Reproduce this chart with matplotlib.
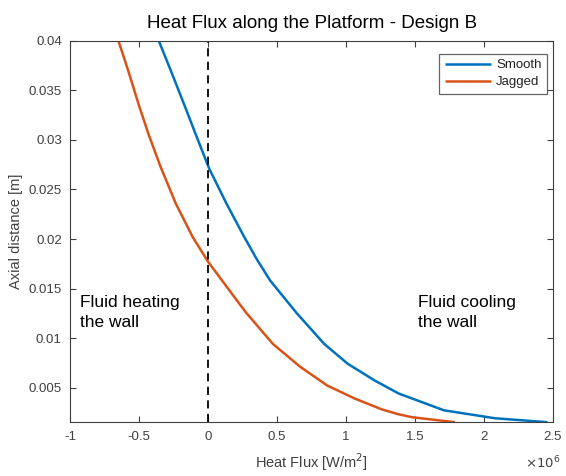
import matplotlib
matplotlib.use("Agg")
import matplotlib.pyplot as plt

plt.rcParams['font.family'] = ['Liberation Sans', 'DejaVu Sans']

# Data (heat flux in units of 1e6 W/m^2, axial distance in m)
smooth_y = [0.0400, 0.0366, 0.0332, 0.0305, 0.0271, 0.0236, 0.0202, 0.0179,
            0.0158, 0.0125, 0.0094, 0.0074, 0.0057, 0.0044, 0.0027, 0.0019, 0.0015]
smooth_x = [-0.357, -0.259, -0.163, -0.088, 0.008, 0.132, 0.262, 0.355,
            0.450, 0.643, 0.842, 1.012, 1.209, 1.381, 1.71, 2.08, 2.46]
jagged_y = [0.0400, 0.0369, 0.0336, 0.0305, 0.0273, 0.0236, 0.0202, 0.0177,
            0.0150, 0.0126, 0.0094, 0.0071, 0.0052, 0.0039, 0.0028, 0.0023,
            0.0020, 0.0015]
jagged_x = [-0.650, -0.577, -0.504, -0.430, -0.345, -0.235, -0.112, 0.0,
            0.144, 0.273, 0.470, 0.667, 0.864, 1.061, 1.258, 1.381,
            1.48, 1.79]

xticks = [-1, -0.5, 0, 0.5, 1, 1.5, 2, 2.5]
xticklabels = ['-1', '-0.5', '0', '0.5', '1', '1.5', '2', '2.5']
yticks = [0.005, 0.01, 0.015, 0.02, 0.025, 0.03, 0.035, 0.04]
yticklabels = ['0.005', '0.01', '0.015', '0.02', '0.025', '0.03', '0.035', '0.04']

fig = plt.figure(figsize=(5.66, 4.76), dpi=100)
ax = fig.add_axes([0.124, 0.113, 0.853, 0.801])

ax.plot(smooth_x, smooth_y, color='#0072BD', lw=1.8, label='Smooth',
        solid_joinstyle='round', solid_capstyle='butt')
ax.plot(jagged_x, jagged_y, color='#D95319', lw=1.8, label='Jagged',
        solid_joinstyle='round', solid_capstyle='butt')
ax.axvline(0, color='black', lw=1.3, ls=(0, (4.5, 3)))

ax.set_xlim(-1, 2.5)
ax.set_ylim(0.0015, 0.04)
ax.set_xticks(xticks)
ax.set_xticklabels(xticklabels)
ax.set_yticks(yticks)
ax.set_yticklabels(yticklabels)

gray = '#404040'
ax.tick_params(direction='in', length=4, width=0.8, top=True, right=True,
               labelsize=9.5, colors=gray, pad=6)
for s in ax.spines.values():
    s.set_color(gray)
    s.set_linewidth(0.8)

ax.set_title('Heat Flux along the Platform - Design B', fontsize=13.5, color='black', pad=9)
ax.set_xlabel('Heat Flux [W/m$^2$]', fontsize=10.5, color=gray, labelpad=6)
ax.set_ylabel('Axial distance [m]', fontsize=10.5, color=gray, labelpad=4)
ax.text(1.015, -0.108, r'$\times10^{6}$', transform=ax.transAxes, fontsize=9.5,
        color=gray, ha='right', va='center')

ax.text(-0.93, 0.0143, 'Fluid heating\nthe wall', fontsize=12.5, color='black',
        ha='left', va='top', linespacing=1.35)
ax.text(1.52, 0.0143, 'Fluid cooling\nthe wall', fontsize=12.5, color='black',
        ha='left', va='top', linespacing=1.35)

leg = ax.legend(loc='upper right', bbox_to_anchor=(0.9876, 0.966), fontsize=9.5,
                frameon=True, fancybox=False, edgecolor=gray, handlelength=3.5,
                borderaxespad=0.0, handletextpad=0.4, borderpad=0.4,
                labelspacing=0.35)
leg.get_frame().set_linewidth(0.9)
for t in leg.get_texts():
    t.set_color('#222222')

fig.savefig('out.png', dpi=100)
